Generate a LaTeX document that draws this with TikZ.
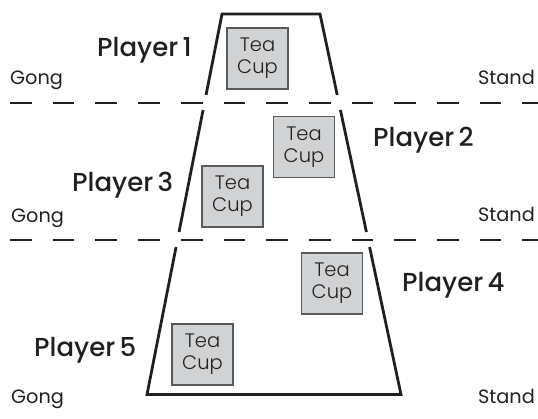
\documentclass[tikz,border=0pt]{standalone}
\usepackage{fontspec}
\setmainfont{Poppins}
\IfFontExistsTF{Poppins Medium}{\newfontfamily\medfont{Poppins Medium}}{\newfontfamily\medfont{Poppins}}
\IfFontExistsTF{Poppins Light}{\newfontfamily\lightfont{Poppins Light}}{\newfontfamily\lightfont{Poppins}}
\usetikzlibrary{calc}
\definecolor{ink}{HTML}{231F20}
\definecolor{cupfill}{HTML}{D1D2D4}
\definecolor{cupedge}{HTML}{58595B}
\tikzset{
  player/.style={font=\medfont\fontsize{26}{29}\selectfont, text=ink, inner sep=0pt},
  side/.style={font=\rmfamily\fontsize{19.3}{22}\selectfont, text=ink, inner sep=0pt},
  cup/.style={draw=cupedge, fill=cupfill, line width=1.3pt, minimum width=61pt, minimum height=61pt,
    inner sep=0pt, align=center, text=ink, font=\lightfont\fontsize{19.5}{22}\selectfont},
  divider/.style={line width=2.8pt, draw=ink, dash pattern=on 21.7pt off 21pt},
  rim/.style={line width=2.8pt, draw=ink, line join=miter}
}
\begin{document}
\begin{tikzpicture}[x=1pt,y=-1pt]
\useasboundingbox (0,0) rectangle (538,419);
% trapezoid corners
\coordinate (TL) at (222,14);
\coordinate (TR) at (320,14);
\coordinate (BL) at (147,394.5);
\coordinate (BR) at (401,394.5);
% dividers
\coordinate (D1a) at (10,103);
\coordinate (D1b) at (538,103);
\coordinate (D2a) at (10,240);
\coordinate (D2b) at (538,240);
\draw[divider] (D1a) -- (D1b);
\draw[divider] (D2a) -- (D2b);
% top section
\draw[rim] ($(TL)!0.2129!(BL)$) -- (TL) -- (TR) -- ($(TR)!0.2129!(BR)$);
% middle section
\draw[rim] ($(TL)!0.2523!(BL)$) -- ($(TL)!0.5729!(BL)$);
\draw[rim] ($(TR)!0.2523!(BR)$) -- ($(TR)!0.5729!(BR)$);
% bottom section
\draw[rim] ($(TL)!0.6124!(BL)$) -- (BL) -- (BR) -- ($(TR)!0.6124!(BR)$);
% tea cups
\node[cup] (c1) at (257.5,58.5) {Tea\\Cup};
\node[cup] (c2) at (304,147) {Tea\\Cup};
\node[cup] (c3) at (232.5,196.5) {Tea\\Cup};
\node[cup] (c4) at (332,283.5) {Tea\\Cup};
\node[cup] (c5) at (202.5,354.5) {Tea\\Cup};
% players
\node[player, anchor=base west] (p1) at (97,57) {Player\,1};
\node[player, anchor=base west] (p2) at (373,147) {Player\,2};
\node[player, anchor=base west] (p3) at (72,191.5) {Player\,3};
\node[player, anchor=base west] (p4) at (402,291.5) {Player\,4};
\node[player, anchor=base west] (p5) at (34,357) {Player\,5};
% gong / stand
\node[side, anchor=base west] (g1) at (10,85) {Gong};
\node[side, anchor=base east] (s1) at (535,85) {Stand};
\node[side, anchor=base west] (g2) at (11,222.5) {Gong};
\node[side, anchor=base east] (s2) at (535,222) {Stand};
\node[side, anchor=base west] (g3) at (11,403) {Gong};
\node[side, anchor=base east] (s3) at (535,403) {Stand};
\end{tikzpicture}
\end{document}
